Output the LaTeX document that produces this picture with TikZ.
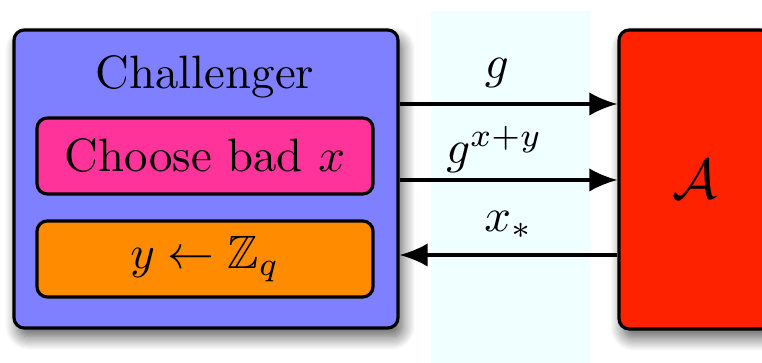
\documentclass[tikz,border=0pt]{standalone}
\usepackage{amssymb}
\usetikzlibrary{shadows.blur,arrows.meta}
\definecolor{chalblue}{HTML}{7F80FF}
\definecolor{badpink}{HTML}{FF3399}
\definecolor{zorange}{HTML}{FF8C00}
\definecolor{advred}{HTML}{FF2200}
\definecolor{bandcyan}{HTML}{F0FFFF}
\def\pxu{0.2137pt}
\tikzset{
  boxstyle/.style={draw=black, line width=0.68pt, rounded corners=2.2pt, inner sep=0pt,
    blur shadow={shadow xshift=0.9pt, shadow yshift=-1.9pt, shadow blur radius=2.8pt, shadow blur steps=12, shadow opacity=65}},
  innerbox/.style={draw=black, line width=0.68pt, rounded corners=2.2pt, inner sep=0pt,
    minimum width=336*\pxu, minimum height=76*\pxu},
  arr/.style={line width=0.65pt, -{Latex[length=6pt,width=5pt]}},
  lbl/.style={inner sep=0pt}
}
\begin{document}
\begin{tikzpicture}[x=\pxu, y=-\pxu]
\useasboundingbox (0,0) rectangle (762,363);
\fill[bandcyan] (431,11) rectangle (590,363);
\node[boxstyle, fill=chalblue, minimum width=384*\pxu, minimum height=298*\pxu] (chal) at (206,179) {};
\node[lbl] (title) at (205,77) {Challenger};
\node[innerbox, fill=badpink] (bad) at (205,156) {Choose bad $x$};
\node[innerbox, fill=zorange] (samp) at (205,259) {$y \leftarrow \mathbb{Z}_q$};
\node[boxstyle, fill=advred, minimum width=152*\pxu, minimum height=299*\pxu] (adv) at (695,179.5) {\fontsize{13}{15}\selectfont$\mathcal{A}$};
\coordinate (r1) at (0,104);
\coordinate (r2) at (0,180);
\coordinate (r3) at (0,255);
\draw[arr] (chal.east |- r1) -- node[lbl, above=3.2pt, xshift=-2.5pt] (lg) {$g$} (adv.west |- r1);
\draw[arr] (chal.east |- r2) -- node[lbl, above=1.2pt, xshift=-3pt] (lgxy) {$g^{x+y}$} (adv.west |- r2);
\draw[arr] (adv.west |- r3) -- node[lbl, above=3.2pt, xshift=0pt] (lx) {$x_*$} (chal.east |- r3);
\end{tikzpicture}
\end{document}
